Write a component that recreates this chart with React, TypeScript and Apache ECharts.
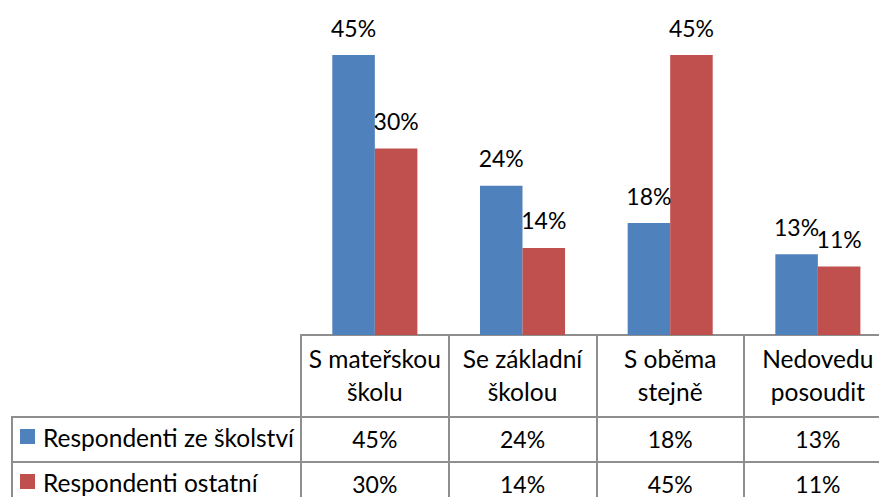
import React, { useEffect, useRef } from "react";
import * as echarts from "echarts";

const categories = ["S mateřskou\nškolu", "Se základní\nškolou", "S oběma\nstejně", "Nedovedu\nposoudit"];
const seriesNames = ["Respondenti ze školství", "Respondenti ostatní"];
const schoolValues = [45, 24, 18, 13];
const otherValues = [30, 14, 45, 11];
const colors = ["#4F81BD", "#C0504D"];

const FONT = "Lato, 'Open Sans', sans-serif";
const LINE = "#8e8e8e";

export default function App() {
  const ref = useRef<HTMLDivElement>(null);
  useEffect(() => {
    if (!ref.current) return;
    const chart = echarts.init(ref.current, undefined, { renderer: "svg" });
    const seriesData = [schoolValues, otherValues];
    chart.setOption({
      animation: false,
      backgroundColor: "#fff",
      grid: { left: 301, top: 24, width: 590.7, height: 311 },
      xAxis: {
        type: "category",
        data: categories,
        axisLine: { show: true, lineStyle: { color: LINE, width: 2 } },
        axisTick: { show: true, interval: 0, length: 175, alignWithLabel: false, lineStyle: { color: LINE, width: 2 } },
        axisLabel: { interval: 0, fontSize: 24.5, lineHeight: 33, margin: 7, color: "#000", fontFamily: FONT },
      },
      yAxis: { type: "value", min: 0, max: 50, show: false, splitLine: { show: false } },
      series: seriesData.map((d, i) => ({
        type: "bar",
        name: seriesNames[i],
        data: d,
        barGap: "0%",
        barCategoryGap: "42.4%",
        itemStyle: { color: colors[i] },
        label: {
          show: true,
          position: "top",
          distance: 16,
          formatter: "{c}%",
          fontSize: 23,
          lineHeight: 23,
          color: "#000",
          fontFamily: FONT,
        },
      })),
    });

    const rowY = [439, 484];
    const legendY = [437, 482];
    const graphics: any[] = [
      { type: "line", shape: { x1: 12, y1: 417, x2: 900, y2: 417 }, style: { stroke: LINE, lineWidth: 2 } },
      { type: "line", shape: { x1: 12, y1: 462, x2: 900, y2: 462 }, style: { stroke: LINE, lineWidth: 2 } },
      { type: "line", shape: { x1: 12, y1: 416, x2: 12, y2: 510 }, style: { stroke: LINE, lineWidth: 2 } },
    ];
    seriesData.forEach((d, s) => {
      graphics.push({
        type: "rect",
        shape: { x: 20, y: legendY[s] - 8, width: 15, height: 15 },
        style: { fill: colors[s] },
      });
      graphics.push({
        type: "text",
        x: 43,
        y: legendY[s],
        style: { text: seriesNames[s], font: `24.5px ${FONT}`, fill: "#000", textVerticalAlign: "middle", textAlign: "left" },
      });
      d.forEach((v, i) => {
        const px = chart.convertToPixel({ xAxisIndex: 0 }, i) as number;
        graphics.push({
          type: "text",
          x: px,
          y: rowY[s],
          style: { text: `${v}%`, font: `23px ${FONT}`, fill: "#000", textVerticalAlign: "middle", textAlign: "center" },
        });
      });
    });
    chart.setOption({ graphic: graphics });
    return () => chart.dispose();
  }, []);
  return (
    <div style={{ position: "fixed", left: 0, top: 0, width: 879, height: 497, overflow: "hidden", background: "#fff" }}>
      <div ref={ref} style={{ width: 900, height: 497 }} />
    </div>
  );
}
